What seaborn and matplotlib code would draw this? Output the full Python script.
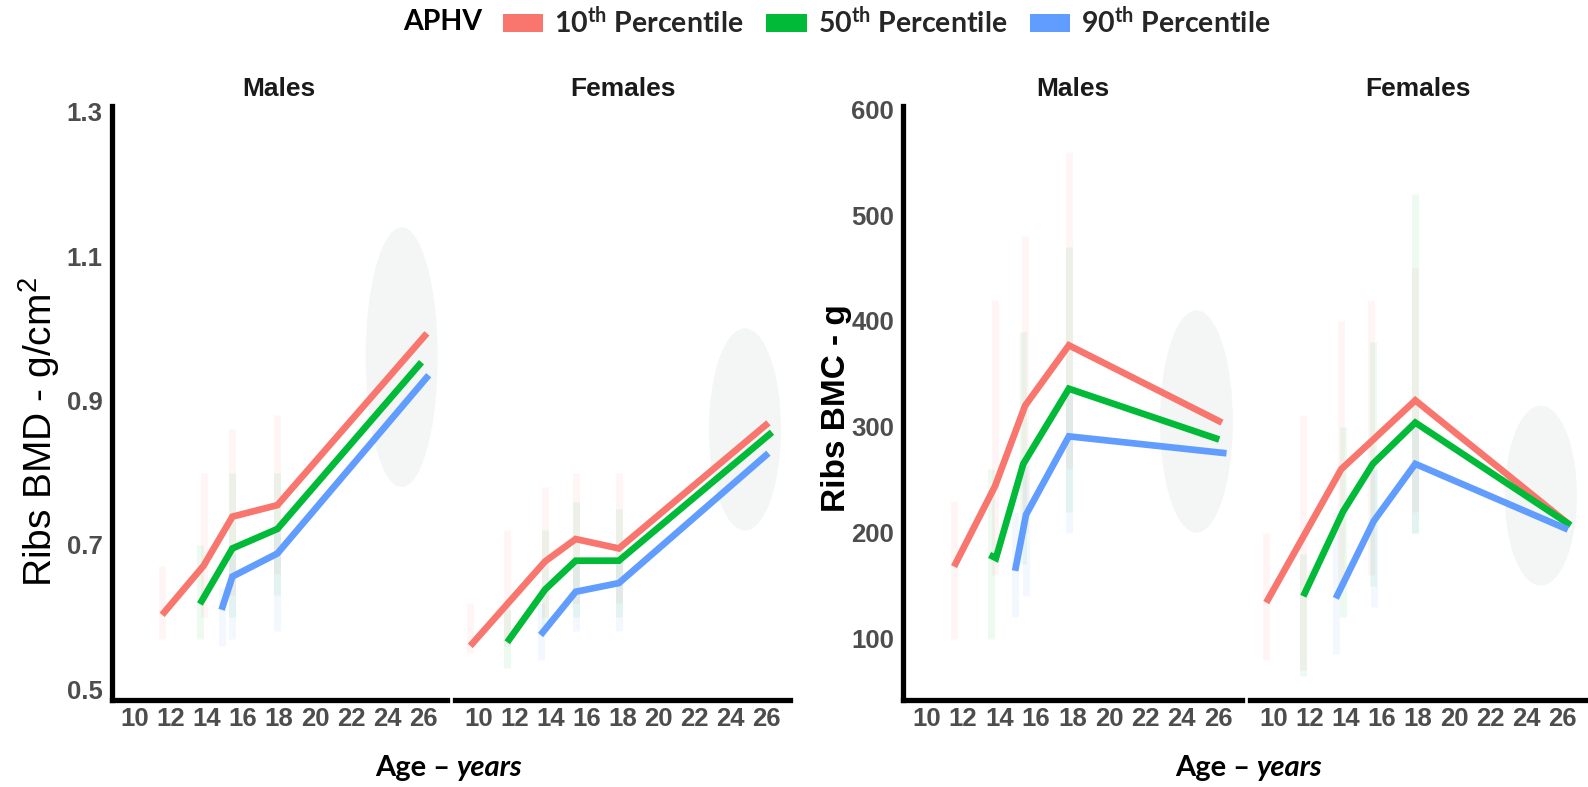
import matplotlib
matplotlib.use("Agg")
import matplotlib.pyplot as plt
from matplotlib.patches import Patch, Ellipse
import numpy as np
import pandas as pd
import seaborn as sns

sns.set_style("white")
plt.rcParams["font.family"] = ["Liberation Sans", "DejaVu Sans"]
plt.rcParams["mathtext.default"] = "regular"

# ---------------- data ----------------
percentiles = ["10th", "50th", "90th"]
colors = ["#F8766D", "#00BA38", "#619CFF"]
sexes = ["Males", "Females"]
age_ticks = [10, 12, 14, 16, 18, 20, 22, 24, 26]
bmd_ticks = [0.5, 0.7, 0.9, 1.1, 1.3]
bmc_ticks = [100, 200, 300, 400, 500, 600]

# Ribs BMD (g/cm2) - Males
bmd_m_p10_age = [11.5, 13.8, 15.4, 17.9, 26.2]
bmd_m_p10_val = [0.603, 0.671, 0.739, 0.755, 0.993]
bmd_m_p50_age = [13.6, 15.4, 17.9, 25.9]
bmd_m_p50_val = [0.618, 0.695, 0.722, 0.953]
bmd_m_p90_age = [14.8, 15.4, 17.9, 26.3]
bmd_m_p90_val = [0.610, 0.656, 0.688, 0.935]
# Ribs BMD - Females
bmd_f_p10_age = [9.55, 13.7, 15.4, 17.8, 26.1]
bmd_f_p10_val = [0.560, 0.677, 0.708, 0.695, 0.869]
bmd_f_p50_age = [11.6, 13.7, 15.4, 17.8, 26.3]
bmd_f_p50_val = [0.565, 0.638, 0.678, 0.678, 0.856]
bmd_f_p90_age = [13.45, 15.4, 17.8, 26.1]
bmd_f_p90_val = [0.575, 0.635, 0.647, 0.827]

# Ribs BMC (g) - Males
bmc_m_p10_age = [11.5, 13.75, 15.4, 17.8, 26.2]
bmc_m_p10_val = [168, 244, 320, 377, 304]
bmc_m_p50_age = [13.45, 13.8, 15.3, 17.8, 26.05]
bmc_m_p50_val = [179, 176, 265, 336, 288]
bmc_m_p90_age = [14.85, 15.45, 17.8, 26.45]
bmc_m_p90_val = [164, 217, 291, 275]
# Ribs BMC - Females
bmc_f_p10_age = [9.6, 13.75, 15.4, 17.85, 26.35]
bmc_f_p10_val = [134, 260, 286, 325, 208]
bmc_f_p50_age = [11.65, 13.85, 15.5, 17.85, 26.45]
bmc_f_p50_val = [140, 220, 265, 304, 207]
bmc_f_p90_age = [13.45, 15.55, 17.85, 26.3]
bmc_f_p90_val = [138, 211, 265, 203]

# faint spread of the individual observations: (age, low, high)
bmd_m_spread = {
    "10th": [(11.5, 0.57, 0.67), (13.8, 0.60, 0.80), (15.4, 0.63, 0.86), (17.9, 0.66, 0.88)],
    "50th": [(13.6, 0.57, 0.70), (15.4, 0.60, 0.80), (17.9, 0.63, 0.80)],
    "90th": [(14.8, 0.56, 0.64), (15.4, 0.57, 0.70), (17.9, 0.58, 0.72)],
}
bmd_f_spread = {
    "10th": [(9.55, 0.55, 0.62), (11.6, 0.56, 0.72), (13.7, 0.60, 0.78), (15.4, 0.62, 0.80), (17.8, 0.62, 0.80)],
    "50th": [(11.6, 0.53, 0.61), (13.7, 0.58, 0.72), (15.4, 0.60, 0.76), (17.8, 0.60, 0.75)],
    "90th": [(13.45, 0.54, 0.62), (15.4, 0.58, 0.68), (17.8, 0.58, 0.68)],
}
bmc_m_spread = {
    "10th": [(11.5, 100, 230), (13.75, 160, 420), (15.4, 200, 480), (17.8, 260, 560)],
    "50th": [(13.55, 100, 260), (15.3, 170, 390), (17.8, 220, 470)],
    "90th": [(14.85, 120, 220), (15.45, 140, 270), (17.8, 200, 330)],
}
bmc_f_spread = {
    "10th": [(9.6, 80, 200), (11.65, 70, 310), (13.75, 150, 400), (15.4, 160, 420), (17.85, 220, 450)],
    "50th": [(11.65, 65, 180), (13.85, 120, 300), (15.5, 150, 380), (17.85, 200, 520)],
    "90th": [(13.45, 85, 220), (15.55, 130, 260), (17.85, 200, 300)],
}
# adult cloud: (age_low, age_high, value_low, value_high)
bmd_m_adult = (22.8, 26.8, 0.78, 1.14)
bmd_f_adult = (22.8, 26.8, 0.72, 1.00)
bmc_m_adult = (22.8, 26.8, 200, 410)
bmc_f_adult = (22.8, 26.8, 150, 320)

def make_df(series):
    rows = []
    for pct, ages, vals in series:
        for a, v in zip(ages, vals):
            rows.append({"age": a, "value": v, "pct": pct})
    return pd.DataFrame(rows)

line_data = {
    ("BMD", "Males"): make_df([("10th", bmd_m_p10_age, bmd_m_p10_val),
                               ("50th", bmd_m_p50_age, bmd_m_p50_val),
                               ("90th", bmd_m_p90_age, bmd_m_p90_val)]),
    ("BMD", "Females"): make_df([("10th", bmd_f_p10_age, bmd_f_p10_val),
                                 ("50th", bmd_f_p50_age, bmd_f_p50_val),
                                 ("90th", bmd_f_p90_age, bmd_f_p90_val)]),
    ("BMC", "Males"): make_df([("10th", bmc_m_p10_age, bmc_m_p10_val),
                               ("50th", bmc_m_p50_age, bmc_m_p50_val),
                               ("90th", bmc_m_p90_age, bmc_m_p90_val)]),
    ("BMC", "Females"): make_df([("10th", bmc_f_p10_age, bmc_f_p10_val),
                                 ("50th", bmc_f_p50_age, bmc_f_p50_val),
                                 ("90th", bmc_f_p90_age, bmc_f_p90_val)]),
}
spreads = {("BMD", "Males"): bmd_m_spread, ("BMD", "Females"): bmd_f_spread,
           ("BMC", "Males"): bmc_m_spread, ("BMC", "Females"): bmc_f_spread}
adults = {("BMD", "Males"): bmd_m_adult, ("BMD", "Females"): bmd_f_adult,
          ("BMC", "Males"): bmc_m_adult, ("BMC", "Females"): bmc_f_adult}

# ---------------- figure ----------------
W, H = 1588, 787
fig = plt.figure(figsize=(W / 100, H / 100), dpi=100)
palette = dict(zip(percentiles, colors))

y0 = 1 - 700 / H
hgt = (700 - 106) / H
layout = {
    ("BMD", "Males"): (111.7 / W, 335 / W),
    ("BMD", "Females"): (455 / W, 335 / W),
    ("BMC", "Males"): (903 / W, 339 / W),
    ("BMC", "Females"): (1250 / W, 336 / W),
}
ylims = {"BMD": (0.485, 1.308), "BMC": (42, 603)}
yticks = {"BMD": bmd_ticks, "BMC": bmc_ticks}
ytick_labels = {"BMD": [f"{t:.1f}" for t in bmd_ticks], "BMC": [str(t) for t in bmc_ticks]}

tick_color = "#4D4D4D"
TICK_FS = 18.5
for (measure, sex), (x0, w) in layout.items():
    ax = fig.add_axes([x0, y0, w, hgt])
    # faint observations
    for pct, col in zip(percentiles, colors):
        sp = spreads[(measure, sex)][pct]
        ax.vlines([s[0] for s in sp], [s[1] for s in sp], [s[2] for s in sp],
                  colors=col, alpha=0.07, linewidth=5, zorder=1)
        a0, a1, v0, v1 = adults[(measure, sex)]
        ax.add_patch(Ellipse(((a0 + a1) / 2, (v0 + v1) / 2), a1 - a0, v1 - v0,
                             facecolor=col, edgecolor="none", alpha=0.025, zorder=1))
    sns.lineplot(data=line_data[(measure, sex)], x="age", y="value", hue="pct",
                 hue_order=percentiles, palette=palette, estimator=None,
                 linewidth=4.8, legend=False, ax=ax, zorder=3,
                 solid_capstyle="butt", solid_joinstyle="miter")
    ax.set_xlim(8.7, 27.3)
    ax.set_ylim(*ylims[measure])
    ax.set_xlabel("")
    ax.set_ylabel("")
    ax.set_title(sex, fontsize=19, fontweight="bold", color="#1A1A1A", pad=7)
    for s in ["top", "right"]:
        ax.spines[s].set_visible(False)
    ax.spines["bottom"].set_linewidth(3.8)
    ax.spines["bottom"].set_color("black")
    ax.set_xticks(age_ticks)
    ax.set_xticklabels([str(t) for t in age_ticks], fontweight="bold",
                       fontsize=TICK_FS, color=tick_color)
    ax.tick_params(axis="x", length=3.5, width=1.0, color="#333333", pad=1.5)
    if sex == "Males":
        ax.spines["left"].set_linewidth(3.8)
        ax.spines["left"].set_color("black")
        ax.set_yticks(yticks[measure])
        ax.set_yticklabels(ytick_labels[measure], fontweight="bold",
                           fontsize=TICK_FS, color=tick_color)
        ax.tick_params(axis="y", length=3.5, width=1.0, color="#333333", pad=3)
    else:
        ax.spines["left"].set_visible(False)
        ax.set_yticks(yticks[measure])
        ax.tick_params(axis="y", length=0, labelleft=False)
    ax.set_facecolor("none")
    ax.grid(False)

# axis titles
fig.text(39 / W, 1 - 432 / H, "Ribs BMD - g/cm$^2$", rotation=90,
         ha="center", va="center", fontsize=28, color="black")
fig.text(836 / W, 1 - 408 / H, "Ribs BMC - g", rotation=90,
         ha="center", va="center", fontsize=24, fontweight="bold", color="black")

for xj in (453, 1253):
    fig.text((xj - 3) / W, 1 - 768 / H, "Age \u2013", ha="right", va="center",
             family="Lato", fontweight="bold", fontsize=21, color="black")
    fig.text((xj + 3) / W, 1 - 768 / H, "years", ha="left", va="center",
             family="Lato", fontweight="bold", style="italic", fontsize=21, color="black")

# legend
fig.text(403 / W, 1 - 22 / H, "APHV", ha="left", va="center",
         family="Lato", fontweight="bold", fontsize=20.5, color="black")
handles = [Patch(facecolor=c, edgecolor="none") for c in colors]
labels = [f"{p[:2]}$^{{th}}$ Percentile" for p in percentiles]
fig.legend(handles, labels, loc="center left", bbox_to_anchor=(503 / W, 1 - 22 / H),
           ncol=3, frameon=False, prop=dict(family="Lato", weight="bold", size=20.5),
           handlelength=1.42, handleheight=0.56, handletextpad=0.38,
           columnspacing=0.8, borderpad=0, borderaxespad=0)

fig.savefig("out.png", dpi=100, facecolor="white")
